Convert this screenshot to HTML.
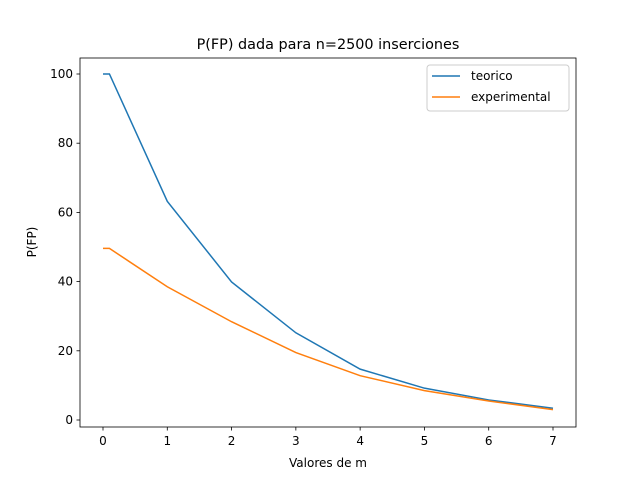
<!DOCTYPE html>
<html><head><meta charset="utf-8"><style>body{margin:0;background:#fff}svg{font-family:"DejaVu Sans","Liberation Sans",sans-serif}</style></head>
<body>
<svg id="chart" width="640" height="480">
<rect width="640" height="480" fill="#fff"/>
<text x="328" y="49" text-anchor="middle" font-size="14.4">P(FP) dada para n=2500 inserciones</text>
<g id="plot"></g>
<rect x="80" y="58" width="496" height="369" fill="none" stroke="#000" stroke-width="0.8"/>
<text x="328" y="467" text-anchor="middle" font-size="12">Valores de m</text>
<text transform="translate(36,242) rotate(-90)" text-anchor="middle" font-size="12">P(FP)</text>
<g>
<rect x="427" y="65" width="142" height="46" rx="3" fill="#fff" fill-opacity="0.8" stroke="#ccc"/>
<line x1="432" y1="76" x2="460" y2="76" stroke="#1f77b4" stroke-width="1.5"/>
<text x="471" y="80" font-size="12">teorico</text>
<line x1="432" y1="97" x2="460" y2="97" stroke="#ff7f0e" stroke-width="1.5"/>
<text x="471" y="101" font-size="12">experimental</text>
</g>
</svg>
<script>
const xs=[0,0.1,1,2,3,4,5,6,7];
const teorico=[100,100,63.2,39.9,25.2,14.7,9.2,5.8,3.4];
const experimental=[49.6,49.6,38.5,28.4,19.5,12.8,8.5,5.5,3.0];
const xTicks=[0,1,2,3,4,5,6,7];
const yTicks=[0,20,40,60,80,100];
const X=v=>103+v*(450/7);
const Y=v=>420-v*3.46;
const g=document.getElementById('plot');
const NS='http://www.w3.org/2000/svg';
function mk(t,a){const e=document.createElementNS(NS,t);for(const k in a)e.setAttribute(k,a[k]);g.appendChild(e);return e;}
xTicks.forEach(t=>{
 const l=mk('line',{x1:X(t),x2:X(t),y1:427,y2:430.5,stroke:'#000','stroke-width':0.8});
 
 
 const tx=mk('text',{x:X(t),y:445,'text-anchor':'middle','font-size':12});tx.textContent=t;
 
 
});
yTicks.forEach(t=>{
 const l=mk('line',{x1:76.5,x2:80,y1:Y(t),y2:Y(t),stroke:'#000','stroke-width':0.8});
 
 
 const tx=mk('text',{x:73,y:Y(t)+4,'text-anchor':'end','font-size':12});tx.textContent=t;
 
 
});
function line(d,c,n){
 const p=mk('polyline',{points:xs.map((x,i)=>X(x)+','+Y(d[i])).join(' '),fill:'none',stroke:c,'stroke-width':1.5});
 
 
}
line(teorico,'#1f77b4','teorico-line');
line(experimental,'#ff7f0e','experimental-line');
</script>
</body></html>
